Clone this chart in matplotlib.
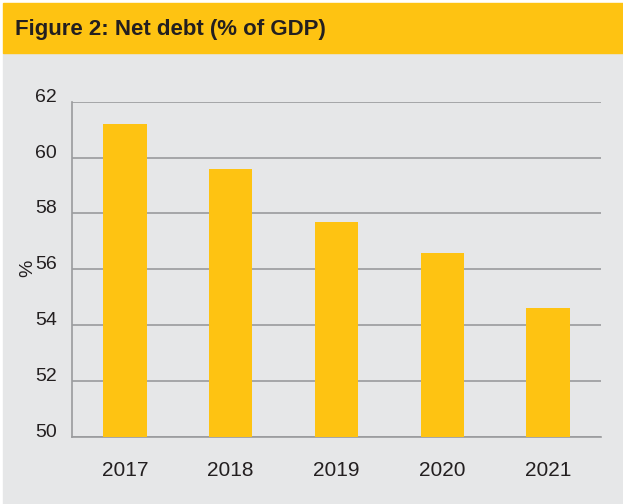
import matplotlib.pyplot as plt
from matplotlib.patches import Rectangle

# ---------- data ----------
years = ["2017", "2018", "2019", "2020", "2021"]
net_debt = [61.2, 59.6, 57.7, 56.6, 54.6]
y_ticks = [50, 52, 54, 56, 58, 60, 62]

YELLOW = "#FEC312"
PANEL = "#E6E7E8"
GRID = "#9A9B9D"
TEXT = "#231F20"

plt.rcParams["font.family"] = ["Liberation Sans", "DejaVu Sans"]

W, H = 623, 504
fig = plt.figure(figsize=(W / 100, H / 100), dpi=100)
fig.patch.set_facecolor("white")

# header band + grey panel
fig.add_artist(Rectangle((3 / W, 0), 1 - 3 / W, (H - 53) / H,
                         transform=fig.transFigure, color=PANEL, zorder=0))
fig.add_artist(Rectangle((3 / W, (H - 53) / H), 1 - 3 / W, 50 / H,
                         transform=fig.transFigure, color=YELLOW, zorder=0))
fig.text(15 / W, (H - 30) / H, "Figure 2: Net debt (% of GDP)",
         fontweight="bold", fontsize=16, color=TEXT, va="center", ha="left")

# axes box: x 72..601, y 101.7..437 px
ax_w, ax_h = 601 - 72, 437 - 101.7
ax = fig.add_axes([72 / W, (H - 437) / H, ax_w / W, ax_h / H])
ax.set_facecolor("none")

x = range(len(years))
ax.bar(x, net_debt, width=0.41, color=YELLOW, zorder=3)

ax.set_xlim(-0.5, len(years) - 0.5)
ax.set_ylim(50, 62)
ax.set_yticks(y_ticks)
ax.set_xticks(list(x))
ax.set_xticklabels(years)

ax.grid(axis="y", color=GRID, linewidth=1.2, zorder=1)
for side in ["top", "right"]:
    ax.spines[side].set_visible(False)
for side in ["left", "bottom"]:
    ax.spines[side].set_color(GRID)
    ax.spines[side].set_linewidth(1.2)

ax.tick_params(axis="y", length=0, pad=11, labelsize=14, labelcolor=TEXT)
ax.tick_params(axis="x", length=0, pad=17, labelsize=15, labelcolor=TEXT)
# value labels sit on top of their gridline
for lab in ax.get_yticklabels():
    lab.set_verticalalignment("baseline")

ax.set_ylabel("%", fontsize=14, color=TEXT)
ax.yaxis.set_label_coords((36 - 72) / ax_w, (437 - 268) / ax_h)

fig.savefig("out.png", dpi=100, facecolor=fig.get_facecolor())
